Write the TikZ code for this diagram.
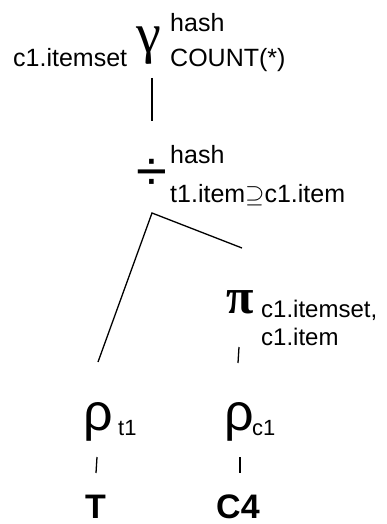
\documentclass[tikz,border=0pt]{standalone}
\usepackage{fontspec}
\setmainfont{Liberation Sans}
\newfontfamily\grserif{Liberation Serif}
\begin{document}
\begin{tikzpicture}[x=1pt,y=-1pt,
  lbl/.style={inner sep=0pt, anchor=base west, font=\fontsize{25}{29}\selectfont},
  pilbl/.style={inner sep=0pt, anchor=base west, font=\fontsize{24}{28}\selectfont},
  sublbl/.style={inner sep=0pt, anchor=base west, font=\fontsize{22}{26}\selectfont},
  bigsym/.style={inner sep=0pt, anchor=base west},
  rel/.style={inner sep=0pt, anchor=base west, font=\fontsize{34}{38}\selectfont\bfseries},
  edge/.style={line width=1.3pt}]
\useasboundingbox (0,0) rectangle (386,524);
% gamma
\node[lbl] (gby) at (13,67) {c1.itemset};
\node[bigsym, font=\fontsize{56}{56}\grserif] (gam) at (136,53) {γ};
\node[lbl] (ghash) at (170,32) {hash};
\node[lbl] (gagg) at (170,67) {COUNT(*)};
% division
\node[bigsym, font=\fontsize{56}{56}\selectfont] (div) at (136,190) {÷};
\node[lbl] (dhash) at (170,163) {hash};
\node[lbl] (dcond) at (170,202) {t1.item$\supseteq$c1.item};
% pi
\node[bigsym, font=\fontsize{50}{50}\grserif\bfseries] (pi) at (226,313) {π};
\node[pilbl] (pa) at (261,317) {c1.itemset,};
\node[pilbl] (pb) at (261,345) {c1.item};
% rho
\node[bigsym, font=\fontsize{52}{52}\selectfont] (rt) at (83,430) {ρ};
\node[sublbl] (rts) at (118,435) {t1};
\node[bigsym, font=\fontsize{52}{52}\selectfont] (rc) at (224,430) {ρ};
\node[sublbl] (rcs) at (252,435) {c1};
% relations
\node[rel] (T) at (85,518) {T};
\node[rel] (C) at (216,518) {C4};
% connectors
\coordinate (g1) at (152,78);
\coordinate (g2) at (152,121);
\coordinate (apex) at (152,213);
\coordinate (dr) at (242,248);
\coordinate (dl) at (98,362);
\coordinate (p1) at (239,347);
\coordinate (p2) at (238,363);
\coordinate (r1a) at (97,457);
\coordinate (r1b) at (96,473);
\coordinate (r2a) at (240,457);
\coordinate (r2b) at (240,473);
\draw[edge] (g1) -- (g2);
\draw[edge] (dl) -- (apex) -- (dr);
\draw[edge] (p1) -- (p2);
\draw[edge] (r1a) -- (r1b);
\draw[edge] (r2a) -- (r2b);
\end{tikzpicture}
\end{document}
